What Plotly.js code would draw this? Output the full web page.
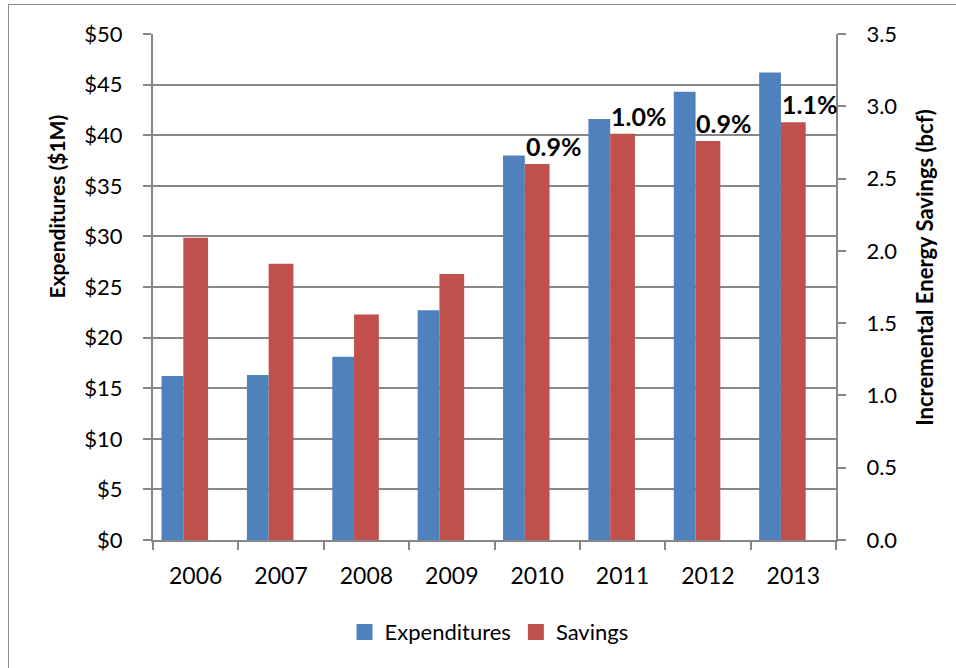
<!DOCTYPE html>
<html>
<head>
<meta charset="utf-8">
<script src="https://cdn.plot.ly/plotly-3.0.1.min.js"></script>
<style>
  html, body { margin: 0; padding: 0; background: #fff; }
  #wrap { position: relative; width: 956px; height: 668px; }
  #chart { width: 956px; height: 668px; }
  #frame { position: absolute; left: 8px; top: 4px; width: 960px; height: 700px;
           border: 1px solid #8c8c8c; pointer-events: none; box-sizing: border-box; }
</style>
</head>
<body>
<div id="wrap">
  <div id="chart"></div>
  <div id="frame"></div>
</div>
<script>
const years = ['2006', '2007', '2008', '2009', '2010', '2011', '2012', '2013'];
const expenditures = [16.2, 16.3, 18.1, 22.7, 38.0, 41.6, 44.3, 46.2];
const savings = [2.09, 1.91, 1.56, 1.84, 2.60, 2.81, 2.76, 2.89];
const pctYears = ['2010', '2011', '2012', '2013'];
const pctLabels = ['0.9%', '1.0%', '0.9%', '1.1%'];
const leftTicks = [0, 5, 10, 15, 20, 25, 30, 35, 40, 45, 50];
const rightTicks = [0, 0.5, 1.0, 1.5, 2.0, 2.5, 3.0, 3.5];

const FONT = 'Lato, "Open Sans", "Liberation Sans", sans-serif';
const GRID = '#878787';
const BLUE = '#4F81BD';
const RED = '#C0504D';

const traces = [
  {
    type: 'bar', name: 'Expenditures', x: years, y: expenditures,
    marker: { color: BLUE }, offset: -0.40, width: 0.255,
    yaxis: 'y', hoverinfo: 'skip', showlegend: false
  },
  {
    type: 'bar', name: 'Savings', x: years, y: savings,
    marker: { color: RED }, offset: -0.145, width: 0.29,
    yaxis: 'y2', hoverinfo: 'skip', showlegend: false
  },
  {
    type: 'scatter', mode: 'markers', name: 'Expenditures', x: [null], y: [null],
    marker: { symbol: 'square', size: 16, color: BLUE }, showlegend: true, hoverinfo: 'skip'
  },
  {
    type: 'scatter', mode: 'markers', name: 'Savings', x: [null], y: [null],
    marker: { symbol: 'square', size: 16, color: RED }, showlegend: true, hoverinfo: 'skip'
  }
];

const annotations = pctYears.map((yr, i) => ({
  x: years.indexOf(yr), y: savings[years.indexOf(yr)], xref: 'x', yref: 'y2',
  text: '<b>' + pctLabels[i] + '</b>', showarrow: false,
  xanchor: 'center', yanchor: 'middle', xshift: 16, yshift: 18,
  font: { family: FONT, size: 25, color: '#000' }
}));

annotations.push({
  xref: 'paper', yref: 'paper', x: 0, y: 0.659, xshift: -96,
  text: '<b>Expenditures ($1M)</b>', textangle: -90, showarrow: false,
  xanchor: 'center', yanchor: 'middle',
  font: { family: FONT, size: 21, color: '#000' }
});
annotations.push({
  xref: 'paper', yref: 'paper', x: 1, y: 0.538, xshift: 89,
  text: '<b>Incremental Energy Savings (bcf)</b>', textangle: -90, showarrow: false,
  xanchor: 'center', yanchor: 'middle',
  font: { family: FONT, size: 22, color: '#000' }
});

const layout = {
  width: 956, height: 668,
  margin: { l: 153, r: 120, t: 34, b: 128 },
  paper_bgcolor: '#fff', plot_bgcolor: '#fff',
  font: { family: FONT, size: 22, color: '#000' },
  showlegend: true,
  legend: {
    orientation: 'h', x: 0.492, xanchor: 'center', y: -0.182, yanchor: 'middle',
    font: { family: FONT, size: 22, color: '#000' }, traceorder: 'normal',
    itemwidth: 30
  },
  xaxis: {
    type: 'category', categoryorder: 'array', categoryarray: years,
    range: [-0.5, years.length - 0.5], autorange: false,
    showgrid: false, zeroline: false,
    showline: true, linecolor: GRID, linewidth: 2,
    ticks: 'outside', tickson: 'boundaries', ticklen: 8, tickcolor: GRID, tickwidth: 2,
    tickangle: 0, ticklabelstandoff: 14,
    tickfont: { family: FONT, size: 23, color: '#000' },
    fixedrange: true
  },
  yaxis: {
    range: [0, 50], autorange: false, tickvals: leftTicks, ticktext: leftTicks.map(v => '$' + v),
    showgrid: true, gridcolor: GRID, gridwidth: 2, zeroline: false,
    showline: true, linecolor: GRID, linewidth: 2,
    ticks: 'outside', ticklen: 8, tickcolor: GRID, tickwidth: 2,
    ticklabelstandoff: 16,
    tickfont: { family: FONT, size: 22, color: '#000' },
    fixedrange: true
  },
  yaxis2: {
    overlaying: 'y', side: 'right', range: [0, 3.5], autorange: false,
    tickvals: rightTicks, ticktext: rightTicks.map(v => v.toFixed(1)),
    showgrid: false, zeroline: false,
    showline: true, linecolor: GRID, linewidth: 2,
    ticks: 'outside', ticklen: 8, tickcolor: GRID, tickwidth: 2,
    ticklabelstandoff: 16,
    tickfont: { family: FONT, size: 22, color: '#000' },
    fixedrange: true
  },
  annotations: annotations
};

Plotly.newPlot('chart', traces, layout, { displayModeBar: false, staticPlot: true });
</script>
</body>
</html>
